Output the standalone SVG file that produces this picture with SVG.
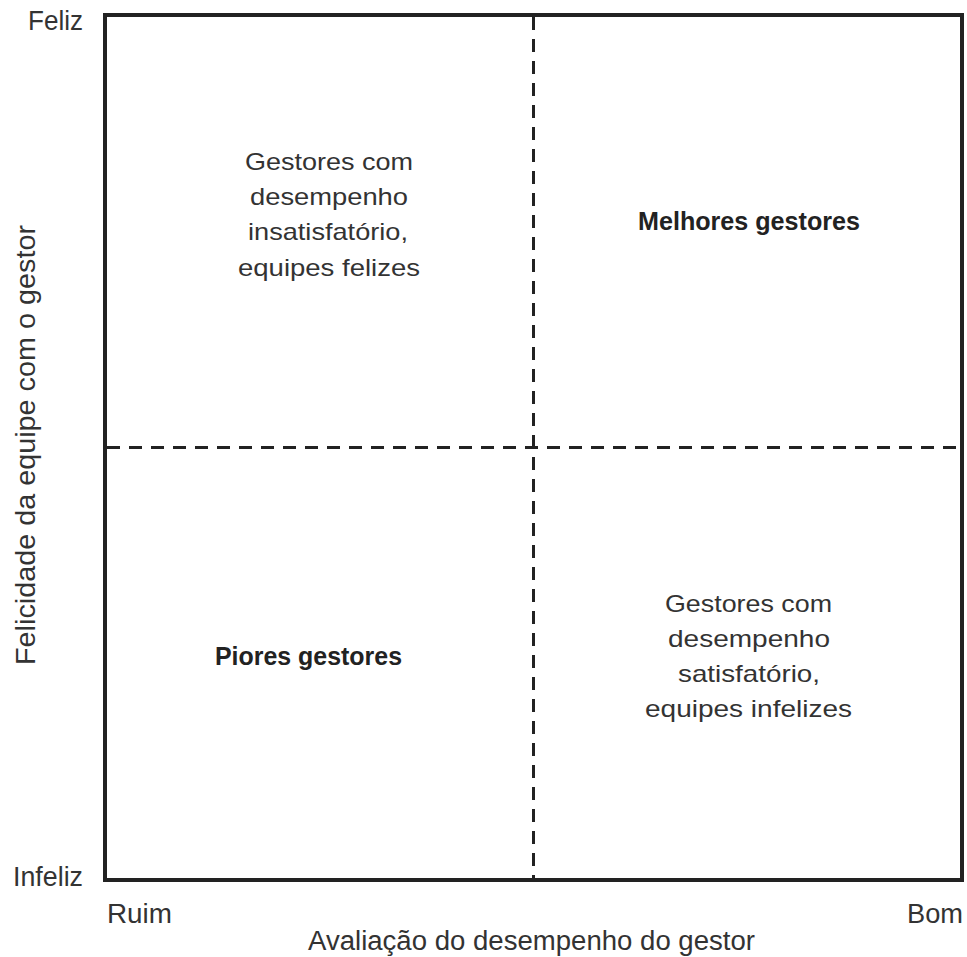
<svg xmlns="http://www.w3.org/2000/svg" width="967" height="957" viewBox="0 0 967 957">
  <style>
    text { font-family: "Liberation Sans Narrow", "Liberation Sans", Arial, sans-serif; fill: #333333; }
    .axis { font-size: 27px; }
    .body { font-size: 24px; }
    .strong { font-size: 25px; font-weight: bold; fill: #222222; }
    .frame { fill: none; stroke: #222222; stroke-width: 4; }
    .divider { fill: none; stroke: #222222; stroke-width: 3; stroke-dasharray: 13 9; }
  </style>
  <rect width="967" height="957" fill="#ffffff"/>

  <!-- quadrant grid -->
  <g id="connectors">
    <rect class="frame" x="105" y="15" width="857" height="865"/>
    <line class="divider" x1="533.5" y1="17" x2="533.5" y2="878"/>
    <line class="divider" x1="107" y1="447.5" x2="962" y2="447.5"/>
  </g>

  <!-- axis labels -->
  <g id="axis-y">
    <text class="axis" x="28" y="30" textLength="55" lengthAdjust="spacingAndGlyphs">Feliz</text>
    <text class="axis" x="13" y="886" textLength="70" lengthAdjust="spacingAndGlyphs">Infeliz</text>
    <text class="axis" transform="translate(35,665) rotate(-90)" x="0" y="0" textLength="440" lengthAdjust="spacingAndGlyphs">Felicidade da equipe com o gestor</text>
  </g>
  <g id="axis-x">
    <text class="axis" x="107" y="923" textLength="65" lengthAdjust="spacingAndGlyphs">Ruim</text>
    <text class="axis" x="907" y="923" textLength="56" lengthAdjust="spacingAndGlyphs">Bom</text>
    <text class="axis" x="308" y="950" textLength="447" lengthAdjust="spacingAndGlyphs">Avaliação do desempenho do gestor</text>
  </g>

  <!-- quadrants -->
  <g id="q-top-left">
    <text class="body" x="245" y="170" textLength="168" lengthAdjust="spacingAndGlyphs">Gestores com</text>
    <text class="body" x="250" y="205" textLength="158" lengthAdjust="spacingAndGlyphs">desempenho</text>
    <text class="body" x="248" y="240" textLength="160" lengthAdjust="spacingAndGlyphs">insatisfatório,</text>
    <text class="body" x="238" y="276" textLength="182" lengthAdjust="spacingAndGlyphs">equipes felizes</text>
  </g>
  <g id="q-top-right">
    <text class="strong" x="638" y="230" textLength="222" lengthAdjust="spacingAndGlyphs">Melhores gestores</text>
  </g>
  <g id="q-bottom-left">
    <text class="strong" x="215" y="665" textLength="187" lengthAdjust="spacingAndGlyphs">Piores gestores</text>
  </g>
  <g id="q-bottom-right">
    <text class="body" x="665" y="612" textLength="167" lengthAdjust="spacingAndGlyphs">Gestores com</text>
    <text class="body" x="668" y="647" textLength="162" lengthAdjust="spacingAndGlyphs">desempenho</text>
    <text class="body" x="678" y="682" textLength="142" lengthAdjust="spacingAndGlyphs">satisfatório,</text>
    <text class="body" x="645" y="717" textLength="207" lengthAdjust="spacingAndGlyphs">equipes infelizes</text>
  </g>
</svg>
